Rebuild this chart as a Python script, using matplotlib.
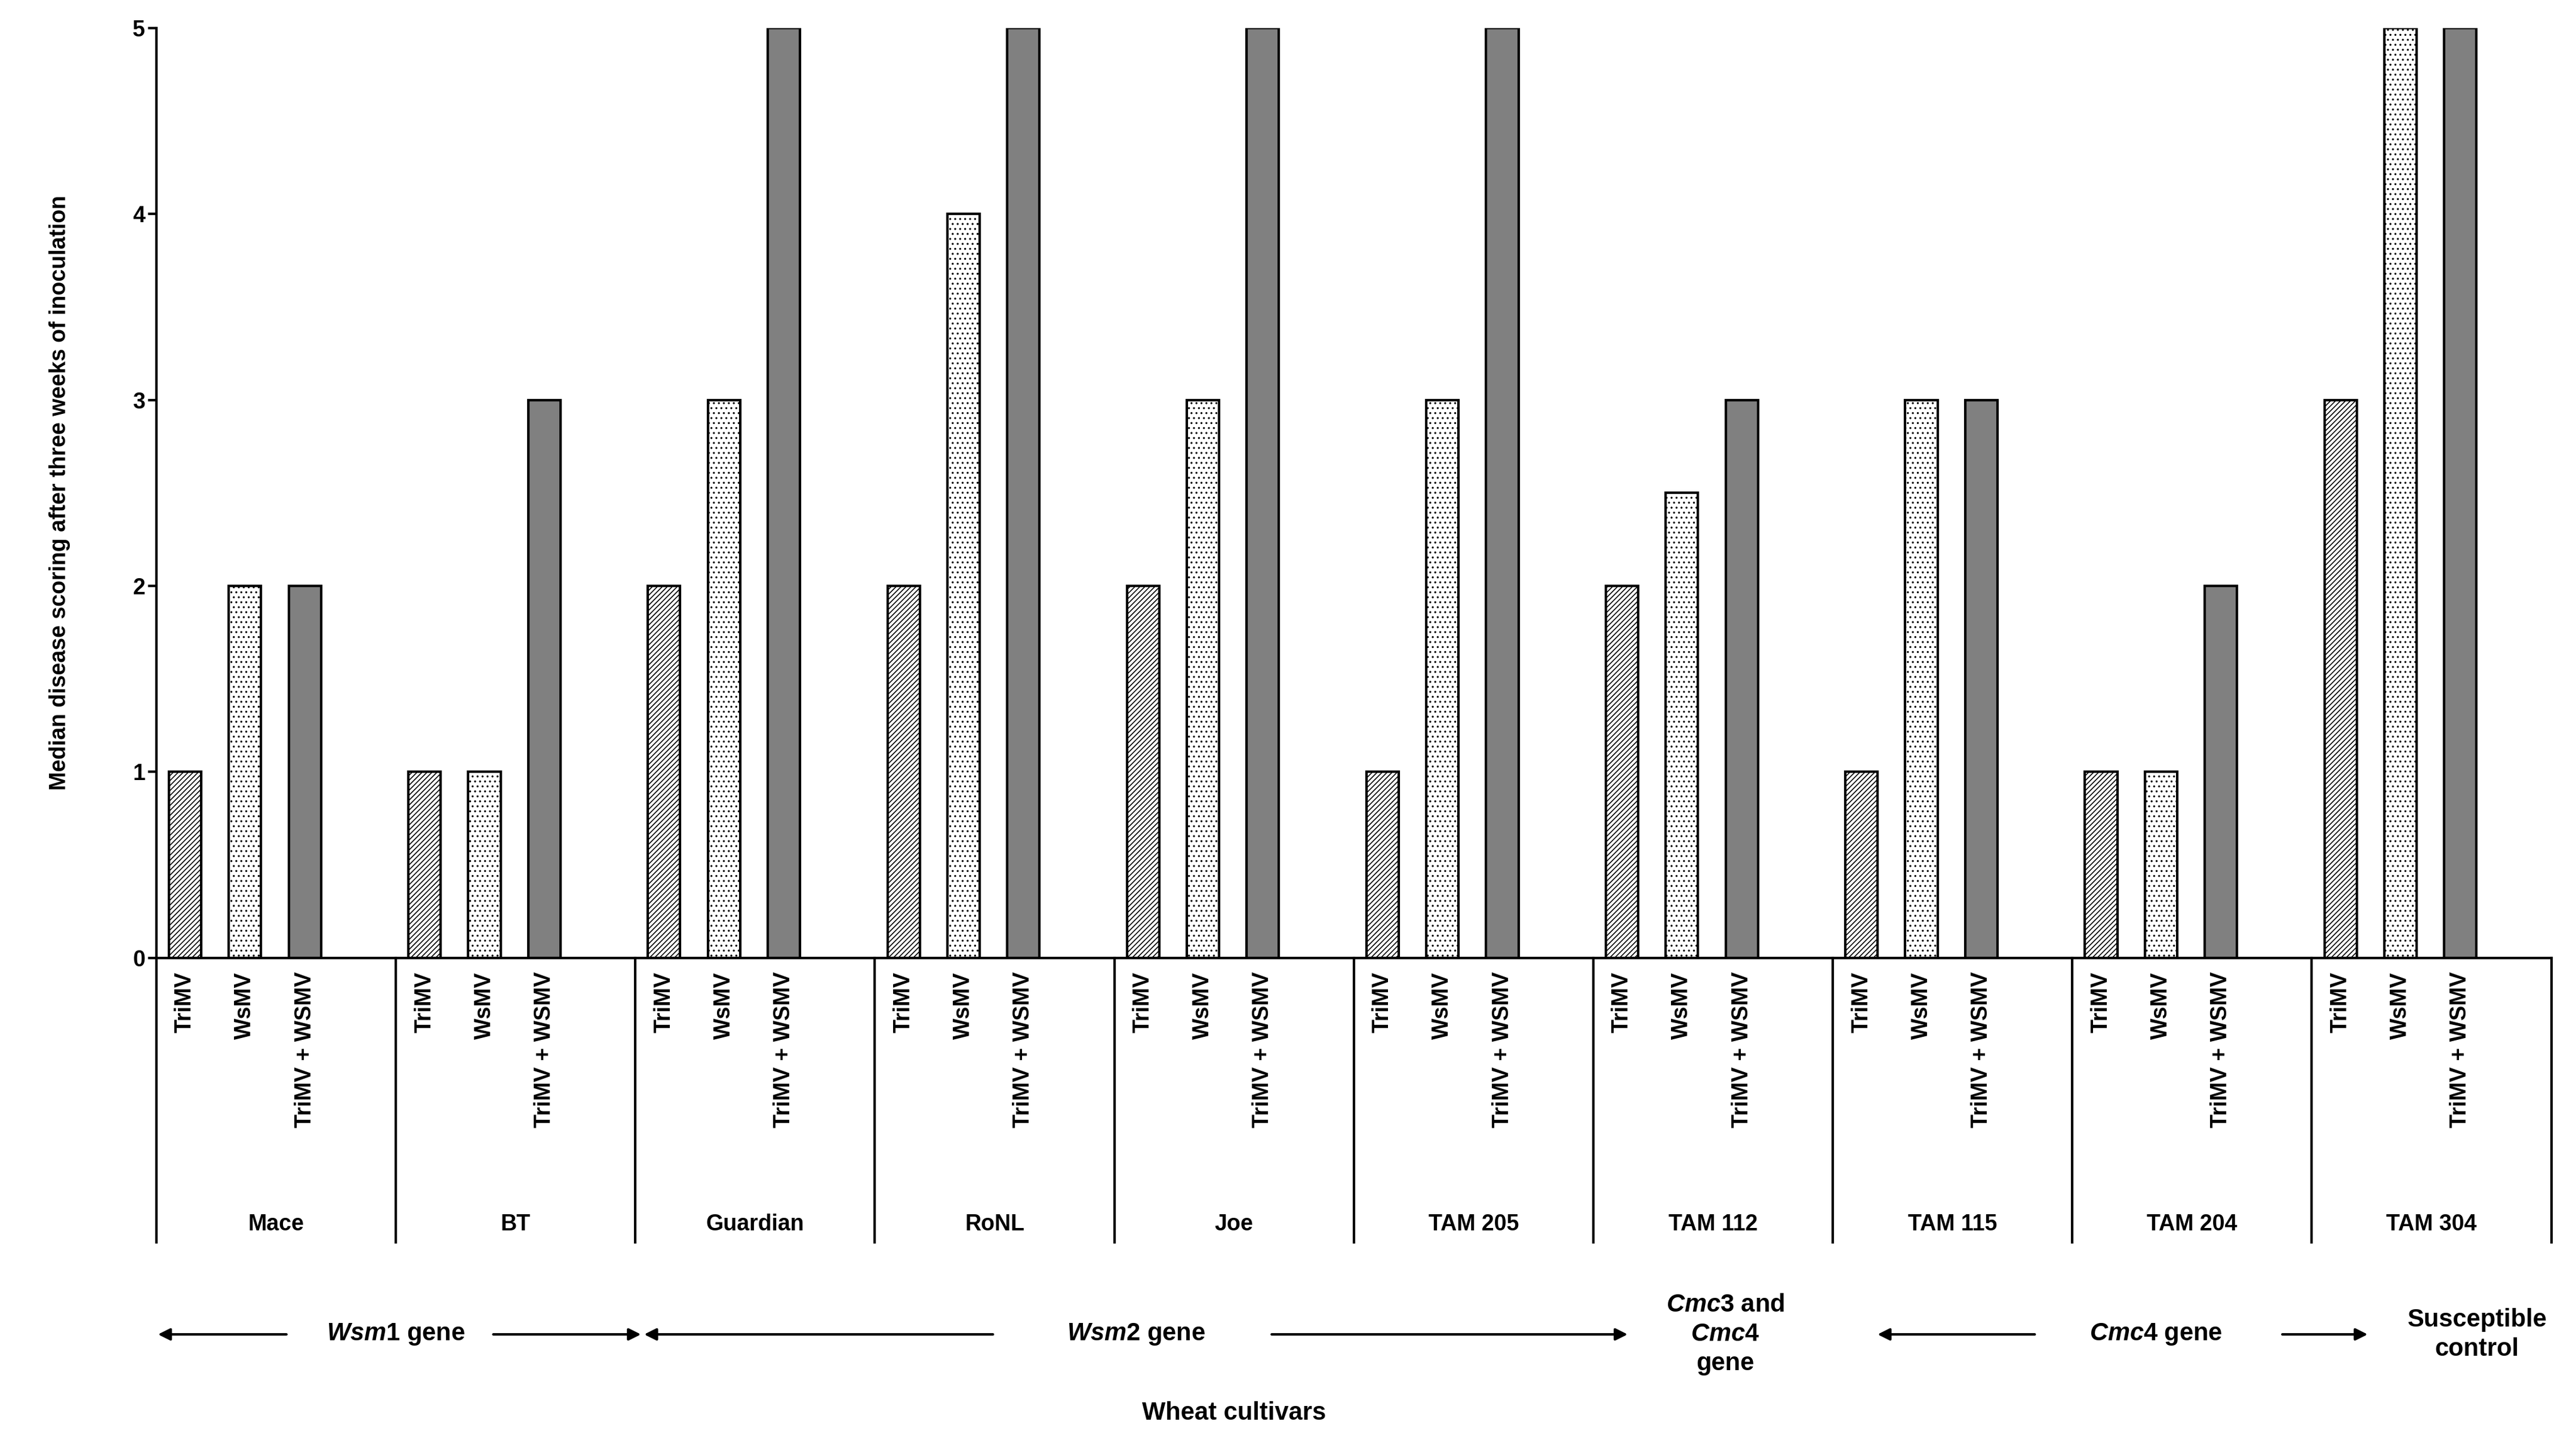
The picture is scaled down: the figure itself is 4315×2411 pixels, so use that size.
import matplotlib
matplotlib.use("Agg")
import matplotlib.pyplot as plt
from matplotlib.transforms import blended_transform_factory

cultivars = ["Mace", "BT", "Guardian", "RoNL", "Joe", "TAM 205", "TAM 112", "TAM 115", "TAM 204", "TAM 304"]
treatments = ["TriMV", "WsMV", "TriMV + WSMV"]
trimv = [1, 1, 2, 2, 2, 1, 2, 1, 1, 3]
wsmv = [2, 1, 3, 4, 3, 3, 2.5, 3, 1, 5]
combo = [2, 3, 5, 5, 5, 5, 3, 3, 2, 5]
yticks = [0, 1, 2, 3, 4, 5]

plt.rcParams["font.family"] = "Liberation Sans"
plt.rcParams["font.weight"] = "bold"
plt.rcParams["hatch.linewidth"] = 1.2
plt.rcParams["mathtext.fontset"] = "custom"
plt.rcParams["mathtext.it"] = "Liberation Sans:bold:italic"
plt.rcParams["mathtext.rm"] = "Liberation Sans:bold"
fig = plt.figure(figsize=(43.15, 24.11), dpi=100)
ax = fig.add_axes([95/1565, 1-582/875, 1455/1565, 565/875])

offs = [0.12, 0.37, 0.62]
w = 0.135
styles = [dict(facecolor="white", hatch="////"), dict(facecolor="white", hatch=".."),
          dict(facecolor="#808080", hatch=None)]
series = [trimv, wsmv, combo]
for vals, st, off in zip(series, styles, offs):
    ax.bar([i + off for i in range(len(cultivars))], vals, width=w, edgecolor="black",
           linewidth=3, **st)

ax.set_xlim(0, 10)
ax.set_ylim(0, 5)
ax.set_yticks(yticks)
ax.tick_params(axis="y", labelsize=27, width=3, length=10)
ax.set_xticks([])
for sp in ["top", "right"]:
    ax.spines[sp].set_visible(False)
ax.spines["left"].set_linewidth(3)
ax.spines["bottom"].set_linewidth(3)
ax.set_ylabel("Median disease scoring after three weeks of inoculation", fontsize=27, fontweight="bold", labelpad=75)

tr = blended_transform_factory(ax.transData, ax.transAxes)
for i, c in enumerate(cultivars):
    for off, t in zip(offs, treatments):
        ax.text(i + off, -0.015, t, rotation=90, ha="center", va="top", fontsize=27, transform=tr)
    ax.text(i + 0.5, -0.287, c, ha="center", va="center", fontsize=27, transform=tr)
for i in range(11):
    ax.plot([i, i], [0, -0.306], color="black", lw=3, transform=tr, clip_on=False)

ya = -0.405
def arrow(x0, x1):
    ax.annotate("", xy=(x1, ya), xytext=(x0, ya), xycoords=tr, textcoords=tr,
                arrowprops=dict(arrowstyle="-|>", color="black", lw=3, mutation_scale=30))
arrow(0.55, 0.0); arrow(1.4, 2.03)
arrow(3.5, 2.03); arrow(4.65, 6.15)
arrow(7.85, 7.18); arrow(8.87, 9.24)
ax.text(1.0, ya, r"$\mathit{Wsm1}$ gene", ha="center", va="center", fontsize=30, transform=tr)
ax.text(4.09, ya, r"$\mathit{Wsm2}$ gene", ha="center", va="center", fontsize=30, transform=tr)
ax.text(6.55, ya, "$\\mathit{Cmc3}$ and\n$\\mathit{Cmc4}$\ngene", ha="center", va="center", fontsize=30, transform=tr, linespacing=1.3)
ax.text(8.35, ya, r"$\mathit{Cmc4}$ gene", ha="center", va="center", fontsize=30, transform=tr)
ax.text(9.69, ya, "Susceptible\ncontrol", ha="center", va="center", fontsize=30, transform=tr, linespacing=1.3)
ax.text(4.5, -0.49, "Wheat cultivars", ha="center", va="center", fontsize=30, transform=tr)

fig.savefig("out.png", dpi=100)
